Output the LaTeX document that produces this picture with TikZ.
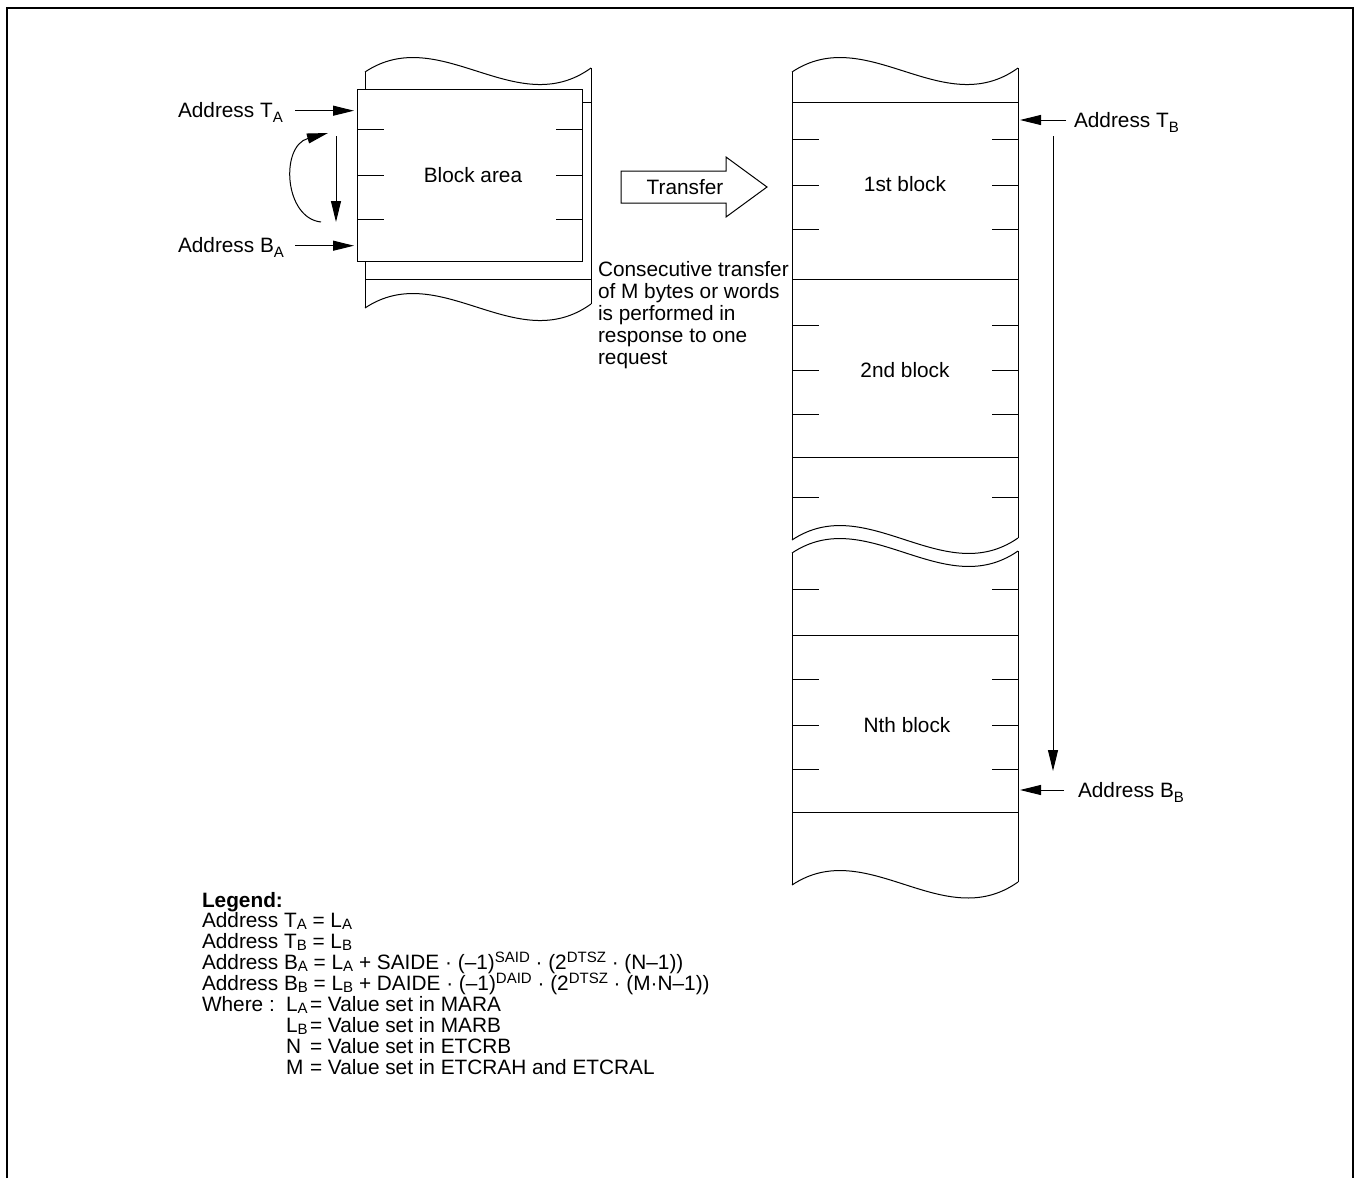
\documentclass[tikz,border=0pt]{standalone}
\usepackage{fontspec}
\setmainfont{Liberation Sans}
\usetikzlibrary{arrows.meta}
\newcommand\lsub[1]{\raisebox{-0.25ex}{\fontsize{15}{15}\selectfont #1}}
\newcommand\lsup[1]{\raisebox{0.6ex}{\fontsize{15}{15}\selectfont #1}}
\newcommand\tsub[1]{\raisebox{-0.5ex}{\fontsize{15}{15}\selectfont #1}}
\begin{document}
\begin{tikzpicture}[x=1pt,y=-1pt,
  txt/.style={font=\fontsize{20.8}{22}\selectfont, inner sep=0pt, outer sep=0pt},
  ln/.style={line width=1pt},
  arr/.style={line width=1pt,-{Triangle[length=21pt,width=10pt]}},
  border/.style={line width=1.8pt},
  blockbox/.style={draw, line width=1pt, fill=white, inner sep=0pt, anchor=north west},
  transferarrow/.style={draw, line width=1pt, fill=white},
]
\useasboundingbox (0,0) rectangle (1356,1178);
% frame
\draw[border] (7,1178) -- (7,8) -- (1353,8) -- (1353,1178);

% ---------- left memory column ----------
\draw[ln] (365,72) .. controls (440,22) and (516,122) .. (591,68);
\draw[ln] (365,72) -- (365,308);
\draw[ln] (591,68) -- (591,304);
\draw[ln] (365,308) .. controls (440,258) and (516,358) .. (591,304);
\draw[ln] (365,102) -- (591,102);
\draw[ln] (365,279) -- (591,279);
\node[blockbox, minimum width=225pt, minimum height=172pt] (blockA) at (357,89) {};
\foreach \y in {129,175,219}{
  \draw[ln] (357,\y) -- (384,\y);
  \draw[ln] (556,\y) -- (582,\y);
}
\node[txt, anchor=base] (blockareatxt) at (473,182) {Block area};

% labels and arrows on left
\node[txt, anchor=base west] (ta) at (178,117) {Address T\tsub{A}};
\node[txt, anchor=base west] (ba) at (178,252) {Address B\tsub{A}};
\coordinate (taS) at (295,110.7);
\coordinate (taE) at (354,110.7);
\coordinate (baS) at (295,245.7);
\coordinate (baE) at (354,245.7);
\draw[arr] (taS) -- (taE);
\draw[arr] (baS) -- (baE);
\coordinate (vS) at (336,136);
\coordinate (vE) at (336,222);
\draw[arr] (vS) -- (vE);
\coordinate (cS) at (321,222);
\coordinate (cE) at (328,133);
\draw[arr] (cS) .. controls (284,218) and (280,146) .. (cE);

% ---------- transfer arrow ----------
\draw[transferarrow] (621,171) -- (726,171) -- (726,157) -- (767,187) -- (726,217) -- (726,203) -- (621,203) -- cycle;
\node[txt, anchor=base] (transfer) at (685,194) {Transfer};

\node[txt, anchor=north west, align=left] (consec) at (598,261)
  {Consecutive transfer\\of M bytes or words\\is performed in\\response to one\\request};

% ---------- right memory column ----------
\draw[ln] (792,72) .. controls (867,22) and (943,122) .. (1018,68);
\draw[ln] (792,72) -- (792,540);
\draw[ln] (1018,68) -- (1018,538);
\draw[ln] (792,540) .. controls (867,490) and (943,590) .. (1018,538);
\draw[ln] (792,553) .. controls (867,503) and (943,603) .. (1018,551);
\draw[ln] (792,553) -- (792,885);
\draw[ln] (1018,551) -- (1018,882);
\draw[ln] (792,885) .. controls (867,835) and (943,935) .. (1018,882);
\foreach \y in {102,279,457,635,812}{
  \draw[ln] (792,\y) -- (1018,\y);
}
\foreach \y in {139,185,229,325,370,414,497,589,679,725,769}{
  \draw[ln] (792,\y) -- (819,\y);
  \draw[ln] (992,\y) -- (1018,\y);
}
\node[txt, anchor=base] (b1) at (905,191) {1st block};
\node[txt, anchor=base] (b2) at (905,377) {2nd block};
\node[txt, anchor=base] (bn) at (907,732) {Nth block};

\node[txt, anchor=base west] (tb) at (1074,127) {Address T\tsub{B}};
\node[txt, anchor=base west] (bb) at (1078,797) {Address B\tsub{B}};
\coordinate (tbS) at (1066,120);
\coordinate (tbE) at (1020,120);
\coordinate (bbS) at (1064,790);
\coordinate (bbE) at (1020,790);
\draw[arr] (tbS) -- (tbE);
\draw[arr] (bbS) -- (bbE);
\coordinate (lS) at (1053,136);
\coordinate (lE) at (1053,771);
\draw[arr] (lS) -- (lE);

% ---------- legend ----------
\node[txt, anchor=base west] (lg0) at (202,907) {\textbf{Legend:}};
\node[txt, anchor=base west] (lg1) at (202,927) {Address T\lsub{A} = L\lsub{A}};
\node[txt, anchor=base west] (lg2) at (202,948) {Address T\lsub{B} = L\lsub{B}};
\node[txt, anchor=base west] (lg3) at (202,969) {Address B\lsub{A} = L\lsub{A} + SAIDE · (–1)\lsup{SAID} · (2\lsup{DTSZ} · (N–1))};
\node[txt, anchor=base west] (lg4) at (202,990) {Address B\lsub{B} = L\lsub{B} + DAIDE · (–1)\lsup{DAID} · (2\lsup{DTSZ} · (M·N–1))};
\node[txt, anchor=base west] (lg5) at (202,1011) {Where :};
\node[txt, anchor=base west] (w1n) at (286,1011) {L\lsub{A}};
\node[txt, anchor=base west] (w1v) at (310,1011) {= Value set in MARA};
\node[txt, anchor=base west] (w2n) at (286,1032) {L\lsub{B}};
\node[txt, anchor=base west] (w2v) at (310,1032) {= Value set in MARB};
\node[txt, anchor=base west] (w3n) at (286,1053) {N};
\node[txt, anchor=base west] (w3v) at (310,1053) {= Value set in ETCRB};
\node[txt, anchor=base west] (w4n) at (286,1074) {M};
\node[txt, anchor=base west] (w4v) at (310,1074) {= Value set in ETCRAH and ETCRAL};
\end{tikzpicture}
\end{document}
